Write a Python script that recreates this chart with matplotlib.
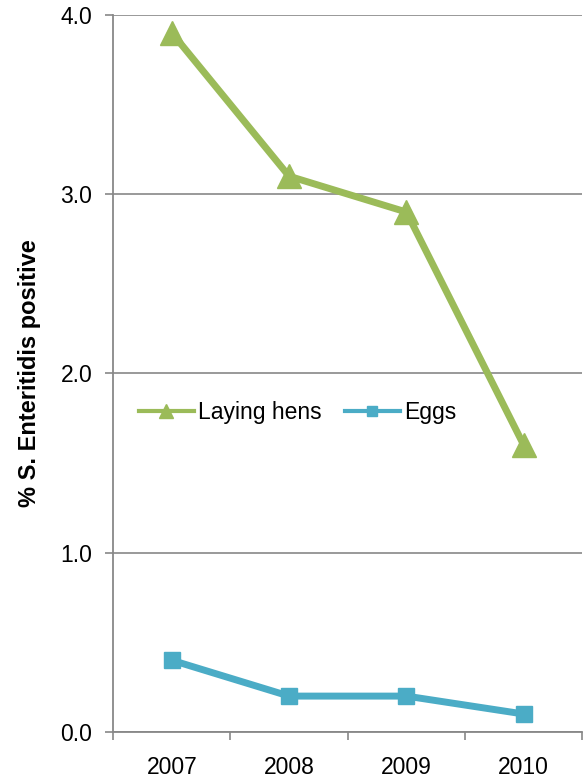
import matplotlib
matplotlib.use('Agg')
import matplotlib.pyplot as plt

years = ['2007', '2008', '2009', '2010']
laying_hens = [3.9, 3.1, 2.9, 1.6]
eggs = [0.4, 0.2, 0.2, 0.1]

plt.rcParams['font.family'] = ['Liberation Sans', 'DejaVu Sans']

fig = plt.figure(figsize=(5.83, 7.82), dpi=100)
ax = fig.add_axes([0.194, 0.064, 0.805, 0.917])

x = range(len(years))
ax.plot(x, laying_hens, color='#9BBB59', lw=5, marker='^', ms=17,
        label='Laying hens', clip_on=False, zorder=3)
ax.plot(x, eggs, color='#4BACC6', lw=5, marker='s', ms=11,
        label='Eggs', clip_on=False, zorder=3)

ax.set_xlim(-0.5, 3.5)
ax.set_ylim(0, 4)
ax.set_yticks([0, 1, 2, 3, 4])
ax.set_yticklabels(['0.0', '1.0', '2.0', '3.0', '4.0'])
ax.set_xticks(list(x))
ax.set_xticklabels(years)
ax.set_xticks([-0.5, 0.5, 1.5, 2.5, 3.5], minor=True)
ax.tick_params(axis='x', which='major', length=0, pad=17, labelsize=16.5)
ax.tick_params(axis='x', which='minor', length=6, color='#888888', width=1.2)
ax.tick_params(axis='y', length=6, color='#888888', width=1.2, pad=9, labelsize=16.5)

ax.yaxis.grid(True, color='#888888', lw=1.2)
ax.set_axisbelow(True)
for s in ['top', 'right']:
    ax.spines[s].set_visible(False)
for s in ['left', 'bottom']:
    ax.spines[s].set_color('#888888')
    ax.spines[s].set_linewidth(1.3)

ax.set_ylabel('% S. Enteritidis positive', fontsize=17, fontweight='bold', labelpad=14)

leg = ax.legend(loc='center left', bbox_to_anchor=(0.035, 0.445), ncol=2,
                frameon=False, fontsize=16.5, markerscale=0.6, handlelength=2.4,
                handletextpad=0.2, columnspacing=1.0, borderaxespad=0)
for line in leg.get_lines():
    line.set_linewidth(3)

fig.savefig('out.png', dpi=100)
